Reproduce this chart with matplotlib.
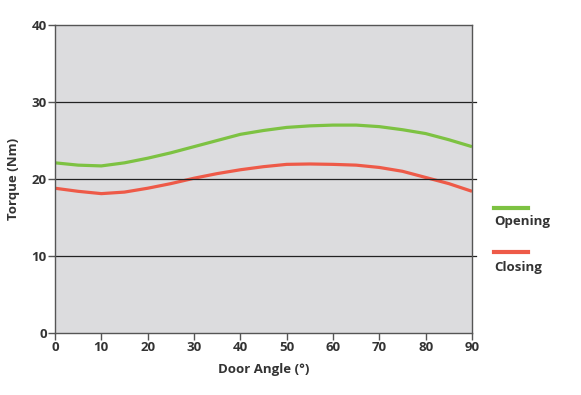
import matplotlib
matplotlib.use('Agg')
import matplotlib.pyplot as plt
from matplotlib.lines import Line2D

angle = [0, 5, 10, 15, 20, 25, 30, 35, 40, 45, 50, 55, 60, 65, 70, 75, 80, 85, 90]
opening = [22.1, 21.8, 21.7, 22.1, 22.7, 23.4, 24.2, 25.0, 25.8, 26.3, 26.7, 26.9, 27.0, 27.0, 26.8, 26.4, 25.9, 25.1, 24.2]
closing = [18.8, 18.4, 18.1, 18.3, 18.8, 19.4, 20.1, 20.7, 21.2, 21.6, 21.9, 21.95, 21.9, 21.8, 21.5, 21.0, 20.2, 19.4, 18.4]
xticks = [0, 10, 20, 30, 40, 50, 60, 70, 80, 90]
yticks = [0, 10, 20, 30, 40]

green = '#7dc242'
red = '#ee5a48'
txt = '#333333'

plt.rcParams['font.family'] = ['Open Sans', 'DejaVu Sans']
plt.rcParams['font.weight'] = 'bold'
plt.rcParams['axes.labelweight'] = 'bold'

fig = plt.figure(figsize=(5.81, 3.95), dpi=100)
ax = fig.add_axes([55/581, 62/395, 417/581, 308/395])
ax.set_facecolor('#dcdcde')

ax.plot(angle, opening, color=green, lw=2.3, solid_capstyle='butt', solid_joinstyle='round')
ax.plot(angle, closing, color=red, lw=2.3, solid_capstyle='butt', solid_joinstyle='round')

ax.set_xlim(0, 90)
ax.set_ylim(0, 40)
ax.set_xticks(xticks)
ax.set_yticks(yticks)
for v in [10, 20, 30]:
    ax.axhline(v, color='#222222', lw=0.9, xmax=1.01, clip_on=False)

for s in ['left', 'bottom', 'right', 'top']:
    ax.spines[s].set_color('#555555')
    ax.spines[s].set_linewidth(1.0)
ax.tick_params(axis='both', direction='out', length=5, width=1.0, color='#555555',
               labelsize=9.5, labelcolor=txt, pad=1)

ax.set_xlabel('Door Angle (°)', fontsize=9.5, color=txt, labelpad=6)
ax.set_ylabel('Torque (Nm)', fontsize=9.5, color=txt, labelpad=8)

# legend outside the plot on the right
fig.add_artist(Line2D([494/581, 528/581], [1 - 208/395, 1 - 208/395], color=green, lw=3))
fig.text(494/581, 1 - 222/395, 'Opening', fontsize=9.5, color=txt, va='center', ha='left')
fig.add_artist(Line2D([494/581, 528/581], [1 - 252/395, 1 - 252/395], color=red, lw=3))
fig.text(494/581, 1 - 267/395, 'Closing', fontsize=9.5, color=txt, va='center', ha='left')

fig.savefig('out.png', dpi=100)
